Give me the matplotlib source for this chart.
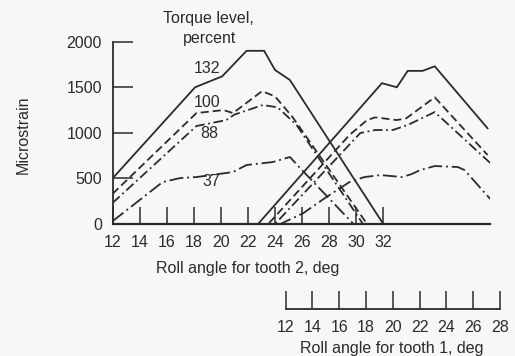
import matplotlib
matplotlib.use("Agg")
import matplotlib.pyplot as plt

plt.rcParams['font.family'] = ['Liberation Sans', 'DejaVu Sans']
plt.rcParams['lines.scale_dashes'] = False

INK = '#2b2b2b'
BG = '#f7f7f7'

# Strain traces, roll angle in degrees on the tooth-2 scale
ang_132_a = [12, 18.1, 20.1, 21.9, 23.2, 24.0, 25.1, 32.0, 39.9]
val_132_a = [500, 1500, 1620, 1900, 1900, 1690, 1580, 0, 0]
ang_100_a = [12, 18.2, 20.2, 20.9, 23.05, 24.0, 25.3, 30.8, 39.9]
val_100_a = [330, 1217, 1250, 1217, 1458, 1400, 1173, 0, 0]
ang_88_a = [12, 18.2, 20.4, 21.0, 23.1, 24.2, 25.6, 30.5, 39.9]
val_88_a = [230, 1075, 1140, 1200, 1305, 1280, 1085, 0, 0]
ang_37_a = [12, 15.7, 17.0, 18.2, 20.9, 21.9, 23.85, 25.1, 25.85, 29.8, 39.9]
val_37_a = [30, 460, 504, 515, 570, 647, 680, 735, 614, 0, 0]

ang_132_b = [12, 22.75, 31.9, 33.0, 33.8, 34.9, 35.8, 39.7]
val_132_b = [0, 0, 1545, 1500, 1680, 1680, 1730, 1050]
ang_100_b = [12, 23.5, 29.5, 30.8, 31.4, 33.0, 33.7, 35.8, 39.7]
val_100_b = [0, 0, 976, 1140, 1170, 1140, 1160, 1390, 757]
ang_88_b = [12, 24.0, 30.3, 31.4, 32.7, 33.8, 35.8, 39.9]
val_88_b = [0, 0, 998, 1031, 1031, 1086, 1228, 669]
ang_37_b = [12, 24.4, 26.1, 27.8, 29.5, 30.6, 31.8, 33.4, 34.1, 34.7, 35.8, 37.5, 38.0, 39.9]
val_37_b = [0, 0, 120, 296, 460, 515, 537, 515, 548, 590, 636, 625, 592, 274]

tooth2_ticks = [12, 14, 16, 18, 20, 22, 24, 26, 28, 30, 32]
tooth1_ticks = [12, 14, 16, 18, 20, 22, 24, 26, 28]
strain_ticks = [0, 500, 1000, 1500, 2000]

torque_labels = ['132', '100', '88', '37']

W, H = 515, 356
fig = plt.figure(figsize=(W / 100, H / 100), dpi=100, facecolor=BG)

ax = fig.add_axes([112.5 / W, 1 - 224 / H, (490 - 112.5) / W, (224 - 41.7) / H])
ax.set_facecolor('none')
ax.set_xlim(12, 12 + (490 - 112.5) / 13.54)
ax.set_ylim(0, 2000)

solid = dict(color=INK, lw=1.3, solid_joinstyle='miter')
dash100 = dict(color=INK, lw=1.3, dashes=(5.8, 2.9))
dash88 = dict(color=INK, lw=1.3, dashes=(7.0, 2.6, 1.3, 2.6))
dash37 = dict(color=INK, lw=1.3, dashes=(10.0, 2.8, 1.4, 2.8))

ax.plot(ang_132_a, val_132_a, **solid)
ax.plot(ang_100_a, val_100_a, **dash100)
ax.plot(ang_88_a, val_88_a, **dash88)
ax.plot(ang_37_a, val_37_a, **dash37)
ax.plot(ang_132_b, val_132_b, **solid)
ax.plot(ang_100_b, val_100_b, **dash100)
ax.plot(ang_88_b, val_88_b, **dash88)
ax.plot(ang_37_b, val_37_b, **dash37)

for s in ['top', 'right']:
    ax.spines[s].set_visible(False)
ax.spines['bottom'].set_linewidth(1.6)
ax.spines['bottom'].set_color(INK)
ax.spines['left'].set_linewidth(1.3)
ax.spines['left'].set_color(INK)

ax.set_xticks(tooth2_ticks)
ax.set_xticklabels([str(t) for t in tooth2_ticks])
ax.set_yticks(strain_ticks)
ax.set_yticklabels([str(t) for t in strain_ticks])
ax.tick_params(axis='x', direction='in', length=12.2, width=1.1, pad=8,
               labelsize=11.5, colors=INK)
ax.tick_params(axis='y', direction='in', length=14.4, width=1.1, pad=7.5,
               labelsize=11.5, colors=INK)

# Curve labels
ax.text(18.98, 1711, torque_labels[0], ha='center', va='center', fontsize=11.5, color=INK)
ax.text(18.98, 1338, torque_labels[1], ha='center', va='center', fontsize=11.5, color=INK)
ax.text(19.13, 998, torque_labels[2], ha='center', va='center', fontsize=11.5, color=INK)
ax.text(19.27, 461, torque_labels[3], ha='center', va='center', fontsize=11.5, color=INK)

fig.text(208 / W, 1 - 18 / H, 'Torque level,', ha='center', va='center',
         fontsize=11.5, color=INK)
fig.text(210 / W, 1 - 38 / H, 'percent', ha='center', va='center',
         fontsize=11.5, color=INK)

fig.text(23 / W, 1 - 135 / H, 'Microstrain', rotation=90, ha='center', va='center',
         fontsize=11.5, color=INK)
fig.text(248 / W, 1 - 268 / H, 'Roll angle for tooth 2, deg', ha='center', va='center',
         fontsize=11.5, color=INK)

# Secondary scale for tooth 1
ax2 = fig.add_axes([285.7 / W, 1 - 309.3 / H, (500 - 285.7) / W, 0.06])
ax2.set_facecolor('none')
ax2.set_xlim(12, 28)
ax2.set_ylim(0, 1)
for s in ['top', 'right', 'left']:
    ax2.spines[s].set_visible(False)
ax2.spines['bottom'].set_linewidth(1.3)
ax2.spines['bottom'].set_color(INK)
ax2.set_yticks([])
ax2.set_xticks(tooth1_ticks)
ax2.set_xticklabels([str(t) for t in tooth1_ticks])
ax2.tick_params(axis='x', direction='in', length=13, width=1.1, pad=8,
                labelsize=11.5, colors=INK)
fig.text(392 / W, 1 - 348 / H, 'Roll angle for tooth 1, deg', ha='center', va='center',
         fontsize=11.5, color=INK)

fig.savefig('out.png', dpi=100, facecolor=BG)
